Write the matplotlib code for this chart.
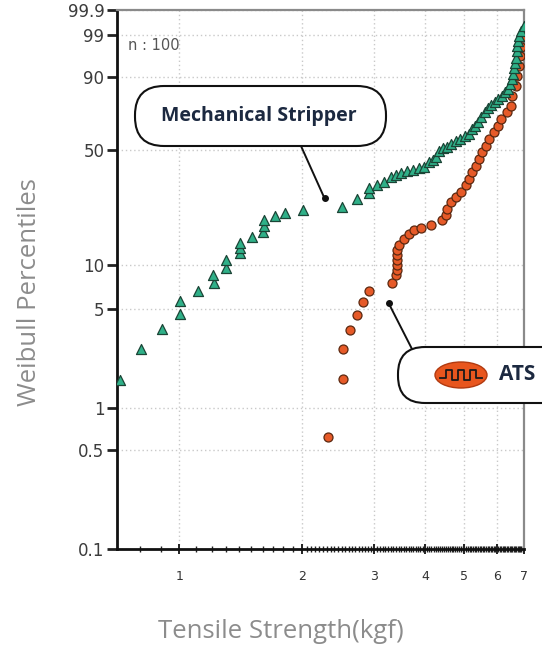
import numpy as np
import matplotlib
matplotlib.use('Agg')
import matplotlib.pyplot as plt
from matplotlib.patches import FancyBboxPatch, Ellipse
from matplotlib.lines import Line2D

# Weibull plot: tensile strength (kgf) vs cumulative percent
ms_strength = [0.714, 0.805, 0.907, 1.002, 1.006, 1.109, 1.214, 1.210, 1.304, 1.304,
               1.411, 1.411, 1.411, 1.508, 1.605, 1.610, 1.610, 1.711, 1.813, 2.012,
               2.508, 2.720, 2.915, 2.915, 3.044, 3.168, 3.296, 3.390, 3.487, 3.607,
               3.732, 3.860, 3.971, 4.085, 4.178, 4.250, 4.322, 4.421, 4.522, 4.626,
               4.759, 4.867, 5.007, 5.121, 5.209, 5.298, 5.389, 5.481, 5.607, 5.702,
               5.800, 5.933, 6.034, 6.172, 6.278, 6.385, 6.457, 6.530, 6.567, 6.604,
               6.642, 6.679, 6.717, 6.744, 6.756, 6.794, 6.871, 6.989]
ms_pct = [1.57, 2.59, 3.63, 4.62, 5.62, 6.62, 7.51, 8.49, 9.57, 10.72,
          11.94, 12.88, 13.90, 15.30, 16.48, 17.95, 19.61, 20.80, 21.82, 22.68,
          23.77, 26.77, 28.82, 30.86, 32.13, 33.44, 35.72, 36.66, 38.09, 38.59,
          39.08, 40.08, 41.08, 43.17, 44.76, 46.37, 49.74, 50.89, 52.01, 53.78,
          55.54, 56.74, 58.52, 59.69, 62.70, 64.54, 66.92, 69.91, 72.84, 75.15,
          76.83, 78.47, 80.07, 81.62, 83.62, 85.05, 87.29, 89.34, 91.20, 93.15,
          94.55, 95.75, 97.11, 97.86, 98.46, 98.92, 99.27, 99.52]

ats_strength = [2.317, 2.522, 2.522, 2.618, 2.720, 2.825, 2.922, 3.327, 3.390, 3.409,
                3.409, 3.409, 3.409, 3.409, 3.454, 3.553, 3.655, 3.760, 3.905, 4.131,
                4.413, 4.497, 4.541, 4.626, 4.759, 4.895, 5.035, 5.130, 5.230, 5.329,
                5.429, 5.534, 5.638, 5.744, 5.909, 6.034, 6.137, 6.373, 6.494, 6.556,
                6.679, 6.744, 6.805, 6.844, 6.871, 6.937, 6.999]
ats_pct = [0.617, 1.60, 2.59, 3.57, 4.55, 5.56, 6.62, 7.51, 8.49, 9.17,
           9.92, 10.72, 11.57, 12.50, 13.49, 14.93, 16.10, 16.91, 17.62, 18.42,
           19.82, 21.09, 23.24, 25.52, 27.37, 29.33, 32.13, 35.12, 38.24, 41.60,
           45.14, 48.78, 52.61, 56.55, 60.50, 64.54, 68.53, 72.45, 76.25, 81.62,
           86.41, 90.48, 93.74, 96.18, 97.62, 98.78, 99.27]

y_ticks = [0.1, 0.5, 1, 5, 10, 50, 90, 99, 99.9]
y_ticklabels = ['0.1', '0.5', '1', '5', '10', '50', '90', '99', '99.9']
x_ticks = [1, 2, 3, 4, 5, 6, 7]
x_ticklabels = ['1', '2', '3', '4', '5', '6', '7']

ms_callout = (2.27, 26.9)
ats_callout = (3.26, 5.45)


def wb_fwd(p):
    p = np.clip(np.asarray(p, dtype=float), 1e-9, 100 - 1e-9)
    return np.log(-np.log(1 - p / 100.0))


def wb_inv(w):
    return 100.0 * (1 - np.exp(-np.exp(w)))


W, H = 542, 653
fig = plt.figure(figsize=(W / 100, H / 100), dpi=100)
ax = fig.add_axes([117 / W, 1 - 548.5 / H, 407 / W, 538.5 / H])
ax.set_xscale('log')
ax.set_yscale('function', functions=(wb_fwd, wb_inv))
ax.set_xlim(0.703, 7.0)
ax.set_ylim(0.1, 99.9)

ax.scatter(ats_strength, ats_pct, marker='o', s=42, facecolor='#e65a28',
           edgecolor='#5b2810', linewidth=0.9, zorder=3)
ax.scatter(ms_strength, ms_pct, marker='^', s=52, facecolor='#2fb088',
           edgecolor='#1b4536', linewidth=0.9, zorder=4)

ax.set_yticks(y_ticks)
ax.set_yticklabels(y_ticklabels)
ax.yaxis.set_minor_locator(matplotlib.ticker.NullLocator())
ax.set_xticks(x_ticks)
ax.set_xticklabels(x_ticklabels)
minor_x = np.concatenate([np.arange(0.8, 2.0, 0.1), np.arange(2.05, 7.0, 0.05)])
ax.set_xticks(minor_x, minor=True)
ax.xaxis.set_minor_formatter(matplotlib.ticker.NullFormatter())

ax.tick_params(axis='y', which='major', direction='out', length=7, width=2,
               color='#222222', labelsize=12, labelcolor='#3c3c3c', pad=2)
ax.tick_params(axis='x', which='major', direction='inout', length=7, width=1.4,
               color='#222222', labelsize=9, labelcolor='#333333', pad=12)
ax.tick_params(axis='x', which='minor', direction='inout', length=4, width=1.0,
               color='#222222')

ax.grid(which='major', linestyle=(0, (1, 2)), color='#c9c9c9', linewidth=1)
ax.set_axisbelow(True)

for side in ('left', 'bottom'):
    ax.spines[side].set_linewidth(2)
    ax.spines[side].set_color('#111111')
for side in ('top', 'right'):
    ax.spines[side].set_linewidth(1.6)
    ax.spines[side].set_color('#8a8a8a')

ax.text(0.026, 0.925, 'n : 100', transform=ax.transAxes, fontsize=10.5,
        color='#555555', fontfamily='DejaVu Sans')

fig.text(30 / W, 1 - 292 / H, 'Weibull Percentiles', rotation=90, ha='center',
         va='center', fontsize=18.5, color='#8c8c8c', fontfamily='Open Sans')
fig.text(281 / W, 1 - 632 / H, 'Tensile Strength(kgf)', ha='center',
         va='center', fontsize=18.5, color='#8c8c8c', fontfamily='Open Sans')

# callout connectors
ax.plot(*ms_callout, 'o', ms=4, color='#111111', zorder=6)
ax.annotate('', xy=ms_callout, xycoords='data', xytext=(301 / W, 1 - 146 / H),
            textcoords='figure fraction',
            arrowprops=dict(arrowstyle='-', color='#111111', lw=1.4,
                            shrinkA=0, shrinkB=0), zorder=6)
ax.plot(*ats_callout, 'o', ms=4, color='#111111', zorder=6)
ax.annotate('', xy=ats_callout, xycoords='data', xytext=(412 / W, 1 - 349 / H),
            textcoords='figure fraction',
            arrowprops=dict(arrowstyle='-', color='#111111', lw=1.4,
                            shrinkA=0, shrinkB=0), zorder=6)

# callout boxes (pill shaped)
asp = W / H
ms_box = FancyBboxPatch((135 / W, 1 - 146 / H), 251 / W, 60 / H,
                        boxstyle='round,pad=0,rounding_size=%f' % (29 / W),
                        mutation_aspect=asp, transform=fig.transFigure,
                        facecolor='white', edgecolor='#111111', lw=1.5, zorder=10)
fig.add_artist(ms_box)
fig.text(259 / W, 1 - 116 / H, 'Mechanical Stripper', ha='center', va='center',
         fontsize=14, fontweight='bold', color='#1c2940',
         fontfamily='Open Sans', zorder=11)

ats_box = FancyBboxPatch((398 / W, 1 - 403 / H), 220 / W, 56 / H,
                         boxstyle='round,pad=0,rounding_size=%f' % (27 / W),
                         mutation_aspect=asp, transform=fig.transFigure,
                         facecolor='white', edgecolor='#111111', lw=1.5, zorder=10)
fig.add_artist(ats_box)
logo = Ellipse((461 / W, 1 - 375 / H), 52 / W, 26 / H, transform=fig.transFigure,
               facecolor='#e8561e', edgecolor='#b13a10', lw=1, zorder=11)
fig.add_artist(logo)
wave_x = [-21, -15, -15, -9, -9, -3, -3, 3, 3, 9, 9, 15, 15, 21]
wave_y = [-3, -3, 5, 5, -5, -5, 5, 5, -5, -5, 5, 5, -3, -3]
fig.add_artist(Line2D([461 / W + dx / W for dx in wave_x],
                      [1 - 375 / H + dy / H for dy in wave_y],
                      transform=fig.transFigure, color='#1a1a1a', lw=1.3, zorder=12))
fig.text(499 / W, 1 - 375 / H, 'ATS', ha='left', va='center', fontsize=15,
         fontweight='bold', color='#1c2940', fontfamily='Open Sans', zorder=11)

fig.savefig('out.png', dpi=100)
